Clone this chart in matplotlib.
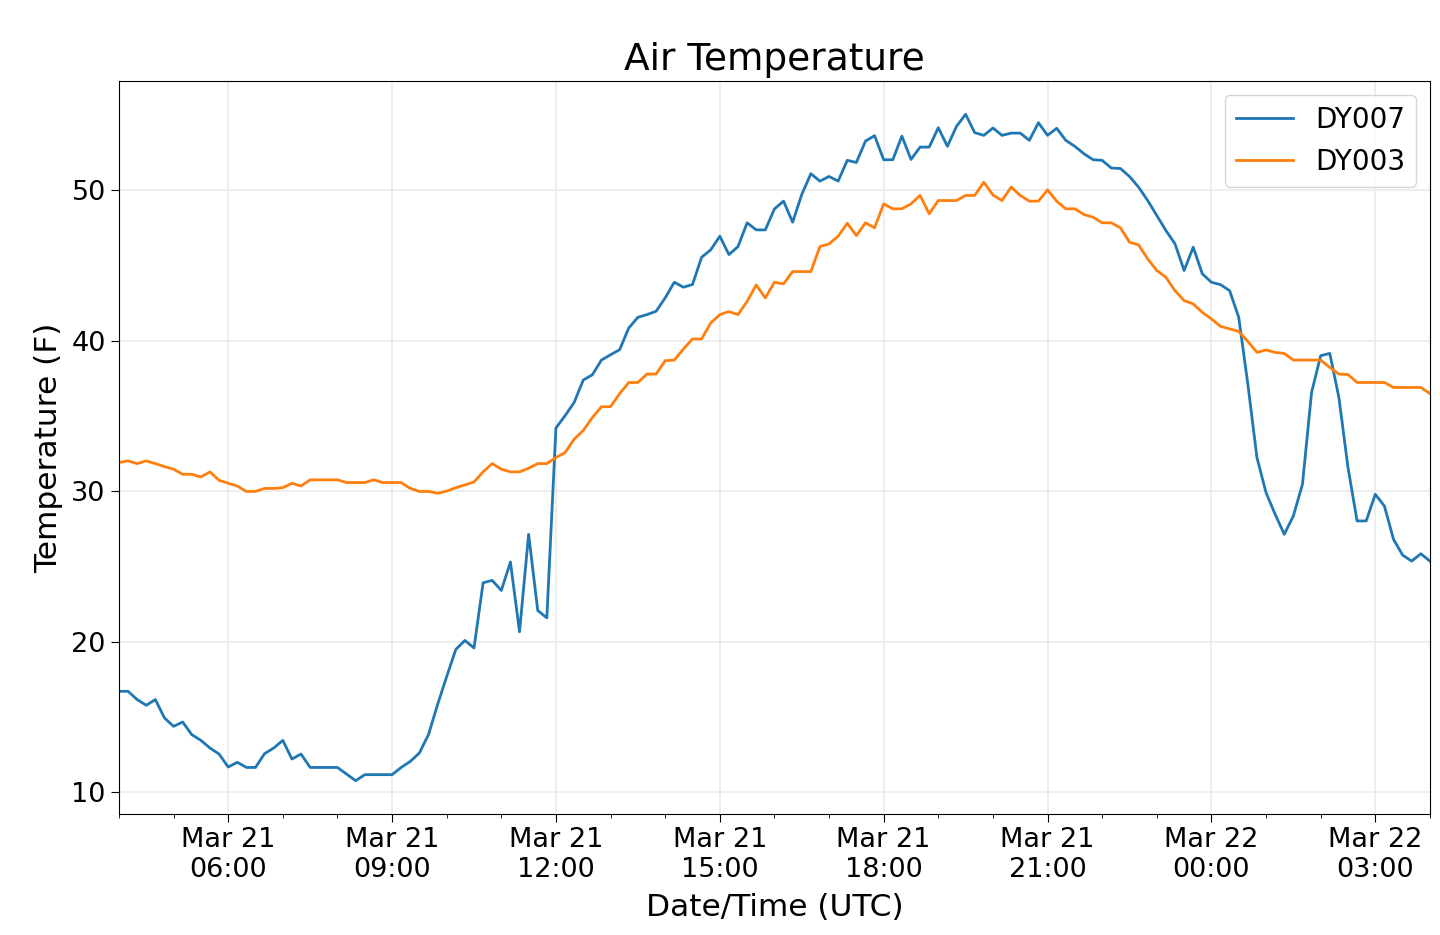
import matplotlib
matplotlib.use("Agg")
import matplotlib.pyplot as plt
import matplotlib.dates as mdates
import pandas as pd

# 10-minute readings, Mar 21 04:00 UTC -> Mar 22 04:00 UTC
times = pd.date_range("2019-03-21 04:00", "2019-03-22 04:00", freq="10min")

dy007 = [
    16.72, 16.72, 16.17, 15.79, 16.17, 14.95, 14.39, 14.68, 13.84, 13.46,
    12.95, 12.55, 11.69, 12.00, 11.66, 11.66, 12.58, 12.95, 13.46, 12.22,
    12.55, 11.66, 11.66, 11.66, 11.66, 11.22, 10.78, 11.18, 11.18, 11.18,
    11.18, 11.66, 12.06, 12.62, 13.84, 15.84, 17.70, 19.50, 20.10, 19.60,
    23.93, 24.09, 23.42, 25.31, 20.67, 27.15, 22.09, 21.60, 34.22, 35.03,
    35.91, 37.40, 37.75, 38.73, 39.08, 39.42, 40.86, 41.57, 41.75, 41.97,
    42.86, 43.90, 43.57, 43.75, 45.56, 46.05, 46.96, 45.74, 46.27, 47.85,
    47.38, 47.38, 48.77, 49.29, 47.89, 49.73, 51.11, 50.62, 50.93, 50.62,
    52.00, 51.86, 53.28, 53.64, 52.04, 52.04, 53.61, 52.06, 52.88, 52.88,
    54.17, 52.93, 54.26, 55.06, 53.84, 53.66, 54.15, 53.66, 53.81, 53.81,
    53.33, 54.50, 53.66, 54.13, 53.33, 52.93, 52.44, 52.04, 52.00, 51.49,
    51.46, 50.93, 50.22, 49.33, 48.34, 47.34, 46.45, 44.68, 46.23, 44.46,
    43.90, 43.74, 43.34, 41.57, 37.13, 32.25, 29.92, 28.48, 27.15, 28.37,
    30.48, 36.58, 39.02, 39.17, 36.25, 31.59, 28.04, 28.04, 29.81, 29.03,
    26.82, 25.77, 25.37, 25.86, 25.37,
]

dy003 = [
    31.92, 32.03, 31.85, 32.03, 31.85, 31.65, 31.48, 31.14, 31.14, 30.96,
    31.30, 30.74, 30.54, 30.36, 30.00, 30.00, 30.20, 30.20, 30.25, 30.54,
    30.36, 30.77, 30.77, 30.77, 30.77, 30.59, 30.59, 30.59, 30.77, 30.59,
    30.59, 30.59, 30.20, 30.00, 30.00, 29.88, 30.02, 30.25, 30.43, 30.63,
    31.30, 31.85, 31.48, 31.30, 31.30, 31.54, 31.85, 31.85, 32.25, 32.58,
    33.47, 34.05, 34.91, 35.63, 35.63, 36.50, 37.24, 37.24, 37.80, 37.80,
    38.69, 38.73, 39.46, 40.13, 40.13, 41.19, 41.75, 41.95, 41.75, 42.63,
    43.72, 42.86, 43.90, 43.79, 44.61, 44.61, 44.61, 46.27, 46.45, 46.96,
    47.82, 47.00, 47.85, 47.52, 49.11, 48.78, 48.78, 49.11, 49.67, 48.45,
    49.33, 49.33, 49.33, 49.67, 49.67, 50.55, 49.70, 49.33, 50.22, 49.67,
    49.29, 49.29, 50.04, 49.29, 48.78, 48.78, 48.40, 48.22, 47.85, 47.85,
    47.52, 46.56, 46.38, 45.45, 44.68, 44.23, 43.34, 42.68, 42.46, 41.90,
    41.46, 40.97, 40.80, 40.64, 39.97, 39.24, 39.40, 39.24, 39.17, 38.73,
    38.73, 38.73, 38.73, 38.24, 37.80, 37.77, 37.24, 37.24, 37.24, 37.24,
    36.91, 36.91, 36.91, 36.91, 36.51,
]

fig = plt.figure(figsize=(14.4, 9.35), dpi=100)
ax = fig.add_axes([0.0826, 0.1294, 0.9104, 0.784])

ax.plot(times, dy007, color="#1f77b4", lw=2, label="DY007")
ax.plot(times, dy003, color="#ff7f0e", lw=2, label="DY003")

ax.set_xlim(times[0], times[-1])
ax.xaxis.set_major_locator(mdates.HourLocator(byhour=range(0, 24, 3)))
ax.xaxis.set_minor_locator(mdates.HourLocator())
ax.xaxis.set_major_formatter(mdates.DateFormatter("%b %d\n%H:%M"))
ax.set_yticks([10, 20, 30, 40, 50])

ax.grid(True, which="major", color="#ebebeb", lw=1.2)
ax.tick_params(axis="both", which="major", labelsize=19.5, length=6)
ax.tick_params(axis="x", which="minor", length=3)
for lab in ax.get_xticklabels():
    lab.set_ha("center")

ax.set_title("Air Temperature", fontsize=27, pad=8)
ax.set_xlabel("Date/Time (UTC)", fontsize=22.5, labelpad=7)
ax.set_ylabel("Temperature (F)", fontsize=22.5, labelpad=6)
ax.legend(loc="upper right", fontsize=20, handlelength=2.05)

fig.savefig("out.png", dpi=100)
